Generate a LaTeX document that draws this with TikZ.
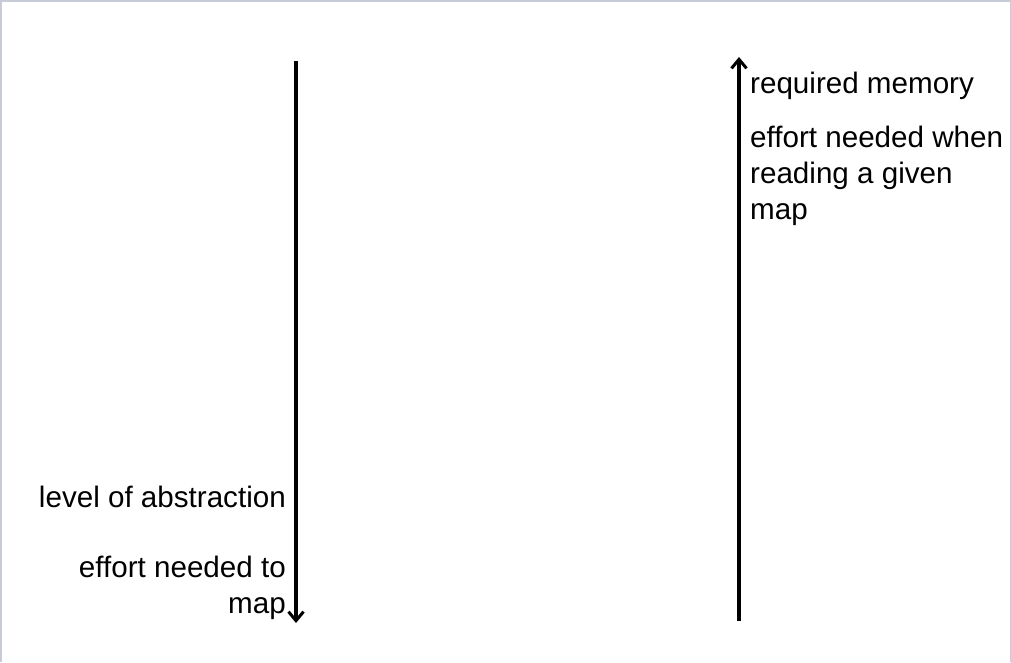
\documentclass[tikz,border=0pt]{standalone}
\usepackage{fontspec}
\setmainfont{Liberation Sans}
\usetikzlibrary{arrows.meta}
\definecolor{frame}{RGB}{200,204,216}
\begin{document}
\begin{tikzpicture}[x=1pt,y=-1pt,
  axis/.style={line width=3.4pt,-{Straight Barb[length=9pt,width=15pt,line width=3pt]}},
  lbl/.style={inner sep=0pt,font=\fontsize{29.6}{36}\selectfont}]
\useasboundingbox (0,0) rectangle (1011,662);
\draw[frame,line width=1.5pt] (0.75,662) -- (0.75,0.75) -- (1010.25,0.75) -- (1010.25,662);
% left axis
\coordinate (l1) at (296,61);
\coordinate (l2) at (296,623);
\draw[axis] (l1) -- (l2);
% right axis
\coordinate (r1) at (739,621);
\coordinate (r2) at (739,57);
\draw[axis] (r1) -- (r2);
% labels
\node[lbl,anchor=north west] (rm) at (750,72) {required memory};
\node[lbl,anchor=north west,align=left] (en) at (750,126) {effort needed when\\reading a given\\map};
\node[lbl,anchor=north east] (la) at (286,486) {level of abstraction};
\node[lbl,anchor=north east,align=right] (em) at (286,556) {effort needed to\\map};
\end{tikzpicture}
\end{document}
